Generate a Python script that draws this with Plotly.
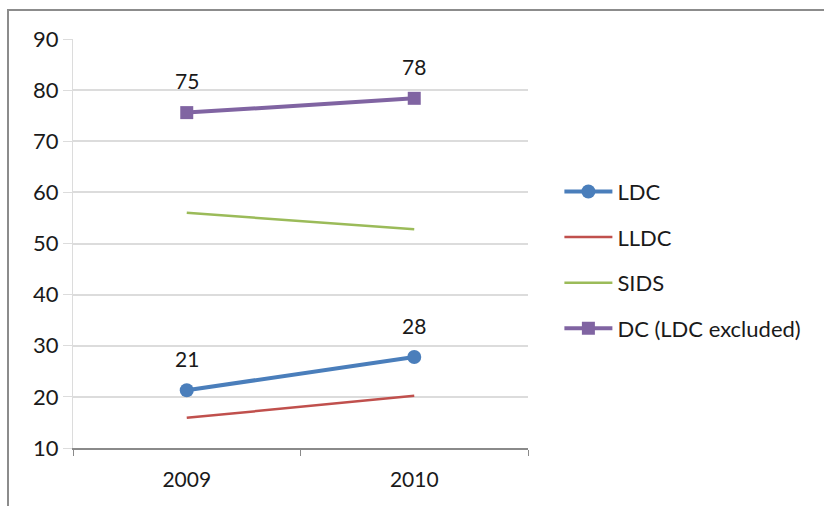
import plotly.graph_objects as go

years = ["2009", "2010"]
ldc = [21.3, 27.8]
lldc = [15.9, 20.2]
sids = [56.0, 52.8]
dc = [75.6, 78.4]
ldc_labels = ["21", "28"]
dc_labels = ["75", "78"]
y_ticks = [10, 20, 30, 40, 50, 60, 70, 80, 90]

FONT = "Lato, Calibri, Carlito, sans-serif"

fig = go.Figure()
fig.add_trace(go.Scatter(x=years, y=ldc, name="LDC", mode="lines+markers",
                         line=dict(color="#4A7EBB", width=4),
                         marker=dict(symbol="circle", size=14, color="#4A7EBB"),
                         legendgroup="a"))
fig.add_trace(go.Scatter(x=years, y=lldc, name="LLDC", mode="lines",
                         line=dict(color="#C0504D", width=2.5),
                         legendgroup="b"))
fig.add_trace(go.Scatter(x=years, y=sids, name="SIDS", mode="lines",
                         line=dict(color="#9BBB59", width=2.5),
                         legendgroup="c"))
fig.add_trace(go.Scatter(x=years, y=dc, name="DC (LDC excluded)", mode="lines+markers",
                         line=dict(color="#8064A2", width=4),
                         marker=dict(symbol="square", size=13, color="#8064A2"),
                         legendgroup="d"))

annotations = []
for ys, labs in [(ldc, ldc_labels), (dc, dc_labels)]:
    for i, (yv, t) in enumerate(zip(ys, labs)):
        annotations.append(dict(x=i, y=yv, xref="x", yref="y", text=t, showarrow=False,
                                yshift=32, yanchor="middle",
                                font=dict(family=FONT, size=21, color="#1a1a1a")))

l, t, r, b = 73, 39, 296, 58
pw, ph = 824 - l - r, 506 - t - b

fig.update_layout(
    width=824, height=506,
    margin=dict(l=l, r=r, t=t, b=b),
    paper_bgcolor="white", plot_bgcolor="white",
    font=dict(family=FONT, size=21, color="#1a1a1a"),
    showlegend=True,
    legend=dict(x=1.069, y=0.678, xanchor="left", yanchor="top",
                traceorder="grouped", tracegroupgap=14,
                font=dict(family=FONT, size=22, color="#1a1a1a"),
                itemwidth=48),
    annotations=annotations,
    xaxis=dict(type="category", range=[-0.5, 1.5], showgrid=False,
               showline=True, linecolor="#8a8a8a", linewidth=1.5,
               ticks="outside", tickson="boundaries", ticklen=6, tickcolor="#8a8a8a",
               ticklabelstandoff=12,
               tickfont=dict(family=FONT, size=21, color="#1a1a1a"), fixedrange=True),
    yaxis=dict(range=[10, 90], tickvals=y_ticks, showgrid=True, gridcolor="#dcdcdc",
               gridwidth=1.5, showline=True, linecolor="#dcdcdc", linewidth=1,
               ticks="outside", ticklen=9, tickcolor="#dcdcdc", zeroline=False,
               ticksuffix="\u00a0\u00a0",
               tickfont=dict(family=FONT, size=22, color="#1a1a1a"), fixedrange=True),
    shapes=[dict(type="rect", xref="paper", yref="paper",
                 x0=(8 - l) / pw, x1=(830 - l) / pw,
                 y0=-(520 - 448) / ph, y1=(448 - 10) / ph,
                 line=dict(color="#8c8c8c", width=2), fillcolor="rgba(0,0,0,0)", layer="below")],
)

fig.write_html("out.html", config={"displayModeBar": False},
               post_script="document.body.style.margin='0';")
